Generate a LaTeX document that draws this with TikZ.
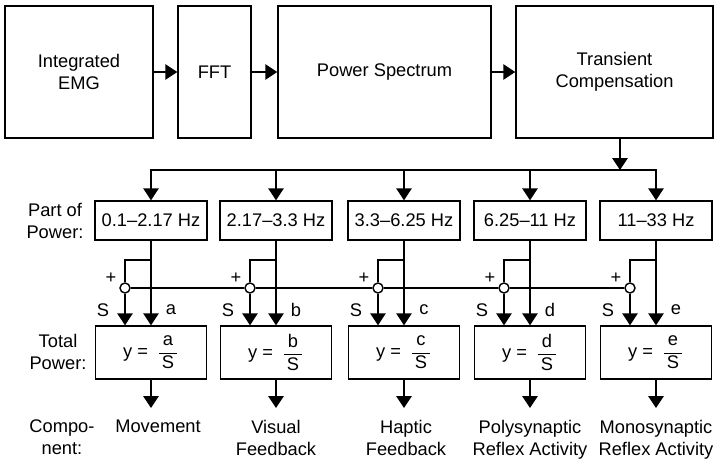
\documentclass[tikz,border=0pt]{standalone}
\usepackage{amsmath}
\usepackage{fontspec}
\setmainfont{Liberation Sans}
\usepackage{tikz}
\usetikzlibrary{arrows.meta,positioning}

\begin{document}
\begin{tikzpicture}[x=0.025cm, y=-0.025cm, line width=1pt,
        font=\fontsize{13}{16}\selectfont,
        block/.style={draw, minimum height=3.3cm, align=center, inner sep=0pt},
        band/.style={draw, minimum width=2.8cm, minimum height=0.975cm, inner sep=0pt},
        ratiobox/.style={draw, minimum width=2.775cm, minimum height=1.325cm, inner sep=0pt},
        junc/.style={draw, fill=white, circle, minimum size=0.25cm, inner sep=0pt},
        comp/.style={align=center, anchor=north, inner xsep=0pt, inner ysep=0.28cm},
        sig/.style={-{Triangle[length=8.5pt,width=11pt]}}]
        \useasboundingbox (0,0) rectangle (718,461);

        % processing chain
        \node[block, minimum width=3.7cm] (emg) at (79,72) {Integrated\\EMG};
        \node[block, minimum width=1.825cm] (fft) at (214.5,72) {FFT};
        \node[block, minimum width=5.325cm] (spec) at (384.5,72) {Power Spectrum};
        \node[block, minimum width=4.925cm] (trans) at (614.5,72) {Transient\\Compensation};
        \draw[sig] (emg) -- (fft);
        \draw[sig] (fft) -- (spec);
        \draw[sig] (spec) -- (trans);

        % frequency bands
        \node[band] (p1) at (151,220.5) {0.1--2.17 Hz};
        \node[band] (p2) at (276,220.5) {2.17--3.3 Hz};
        \node[band] (p3) at (404,220.5) {3.3--6.25 Hz};
        \node[band] (p4) at (530,220.5) {6.25--11 Hz};
        \node[band] (p5) at (656,220.5) {11--33 Hz};

        \coordinate (split) at (620,170);
        \draw[sig] (trans.south -| split) -- (split);
        \draw[sig] (split) -| (p1);
        \draw[sig] (split) -| (p5);
        \draw[sig] (p2.north |- split) -- (p2);
        \draw[sig] (p3.north |- split) -- (p3);
        \draw[sig] (p4.north |- split) -- (p4);

        % summing points, S = sum of all bands
        \node[junc] (j1) at (125,288) {};
        \node[junc] (j2) at (250,288) {};
        \node[junc] (j3) at (378,288) {};
        \node[junc] (j4) at (504,288) {};
        \node[junc] (j5) at (630,288) {};
        \draw (j1) -- (j2) (j2) -- (j3) (j3) -- (j4) (j4) -- (j5);

        % y = part / total
        \node[ratiobox] (y1) at (151,352.5) {y =\hspace{0.5em}$\dfrac{\text{a}}{\text{\,S\,}}$\hspace{14pt}};
        \node[ratiobox] (y2) at (276,352.5) {y =\hspace{0.5em}$\dfrac{\text{b}}{\text{\,S\,}}$\hspace{14pt}};
        \node[ratiobox] (y3) at (404,352.5) {y =\hspace{0.5em}$\dfrac{\text{c}}{\text{\,S\,}}$\hspace{14pt}};
        \node[ratiobox] (y4) at (530,352.5) {y =\hspace{0.5em}$\dfrac{\text{d}}{\text{\,S\,}}$\hspace{14pt}};
        \node[ratiobox] (y5) at (656,352.5) {y =\hspace{0.5em}$\dfrac{\text{e}}{\text{\,S\,}}$\hspace{14pt}};

        \node[comp] (m1) at (158,408) {Movement};
        \node[comp] (m2) at (276,408) {Visual\\Feedback};
        \node[comp] (m3) at (406,408) {Haptic\\Feedback};
        \node[comp] (m4) at (530,408) {Polysynaptic\\Reflex Activity};
        \node[comp] (m5) at (656,408) {Monosynaptic\\Reflex Activity};

        \foreach \i/\c/\v in {1/151/a,2/276/b,3/404/c,4/530/d,5/656/e}{
            \draw[sig] (p\i.south) -- (p\i.south |- y\i.north);
            \draw (p\i.south |- 0,260) -| (j\i.north);
            \draw[sig] (j\i.south) -- (j\i.south |- y\i.north);
            \draw[sig] (y\i.south) -- (y\i.south |- m\i.north);
            \node (plus\i) at (\c-40,278) {+};
            \node (s\i) at (\c-48,310) {S};
            \node (v\i) at (\c+20,310) {\v};
        }

        % row captions
        \node[align=center] (partlbl) at (55,221) {Part of\\Power:};
        \node[align=center] (totallbl) at (58,352) {Total\\Power:};
        \node[align=center] (complbl) at (62,437) {Compo-\\nent:};
    \end{tikzpicture}
\end{document}
